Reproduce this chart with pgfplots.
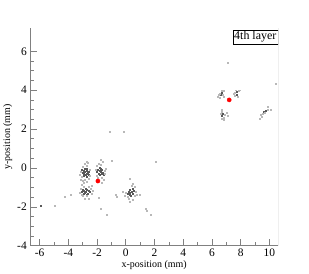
\documentclass[border=0pt]{standalone}
\usepackage{fontspec}
\setmainfont{Liberation Serif}
\usepackage{pgfplots}
\pgfplotsset{compat=1.18}
\definecolor{axgray}{gray}{0.5}
\definecolor{bindark}{gray}{0.35}
\definecolor{binlight}{gray}{0.72}
\begin{document}
\begin{tikzpicture}
\begin{axis}[
  width=248bp, height=218bp, scale only axis,
  xmin=-6.65, xmax=10.6, ymin=-4, ymax=7.2,
  xtick={-6,-4,...,10}, minor x tick num=1,
  ytick={-4,-2,...,6}, minor y tick num=3,
  axis x line*=bottom, axis y line*=left,
  axis line style={axgray, line width=0.7bp},
  every tick/.style={axgray, line width=0.7bp},
  tick align=inside,
  major tick length=7bp, minor tick length=4bp,
  /pgf/number format/assume math mode=true,
  ticklabel style={font=\fontsize{11.5}{12}\selectfont},
  label style={font=\fontsize{10}{12}\selectfont},
  xlabel={x-position (mm)}, ylabel={y-position (mm)},
  xlabel style={yshift=3bp}, ylabel style={yshift=-2bp},
]
% dark bins
\addplot[only marks, color=bindark, mark=square*, mark size=0.5bp, mark options={draw=none, fill=bindark}] coordinates {
(-2.95,-0.15) (-2.85,-0.2) (-2.75,-0.15) (-2.65,-0.25) (-2.9,-0.3) (-2.8,-0.35) (-2.7,-0.3) (-2.6,-0.35) (-3.0,-0.25) (-2.85,-0.05) (-2.7,-0.05) (-2.95,-0.4) (-2.75,-0.45) (-2.55,-0.2) (-3.05,-0.1)
(-1.95,-0.1) (-1.85,-0.15) (-1.75,-0.2) (-1.65,-0.1) (-1.9,-0.3) (-1.8,-0.35) (-1.7,-0.3) (-1.6,-0.25) (-2.0,-0.2) (-1.85,0.0) (-1.75,-0.05) (-1.55,-0.35)
(-3.0,-1.1) (-2.9,-1.15) (-2.8,-1.2) (-2.7,-1.1) (-2.6,-1.15) (-2.95,-1.3) (-2.85,-1.25) (-2.75,-1.35) (-2.65,-1.3) (-3.05,-1.2) (-2.5,-1.2) (-2.8,-1.05)
(0.2,-1.2) (0.3,-1.25) (0.4,-1.2) (0.5,-1.3) (0.25,-1.35) (0.35,-1.4) (0.45,-1.05) (0.15,-1.3) (0.55,-1.15) (0.3,-1.1)
(-5.95,-1.95) (6.6,3.75) (6.7,3.85) (7.7,3.9) (7.75,3.75) (6.75,2.8) (6.7,2.7) (9.75,2.95) (9.6,2.9)
};
% light bins
\addplot[only marks, color=binlight, mark=square*, mark size=0.5bp, mark options={draw=none, fill=binlight}] coordinates {
(-3.15,-0.2) (-3.1,-0.45) (-3.15,-0.6) (-3.0,-0.65) (-2.85,-0.6) (-2.6,-0.55) (-2.5,-0.4) (-2.5,-0.1) (-2.7,0.1) (-2.85,0.2) (-3.0,0.05) (-2.65,0.25) (-3.2,-0.35) (-2.9,-0.75) (-3.05,-0.85) (-2.75,-0.7)
(-2.1,-0.1) (-2.05,-0.4) (-1.95,-0.5) (-1.5,-0.15) (-1.45,-0.3) (-1.65,-0.5) (-1.75,0.15) (-1.9,0.2) (-1.6,0.3) (-2.0,0.1) (-1.4,-0.05) (-1.55,-0.6) (-1.7,-0.75) (-2.05,-0.65)
(-3.15,-1.05) (-3.1,-1.35) (-3.0,-1.45) (-2.7,-1.45) (-2.45,-1.05) (-2.4,-1.3) (-2.3,-1.15) (-2.55,-0.95) (-2.9,-0.95) (-3.2,-1.25) (-2.85,-1.6) (-2.6,-1.6) (-2.35,-0.9)
(0.0,-1.25) (-0.1,-1.4) (0.1,-1.5) (0.6,-1.45) (0.7,-1.2) (0.65,-0.95) (0.4,-0.9) (0.2,-1.6) (0.45,-1.65) (-0.2,-1.2) (0.75,-1.35) (0.5,-0.8) (0.25,-0.55) (0.3,-1.75)
(-4.96,-1.95) (-3.8,-1.38) (-1.78,-2.09) (-1.31,-2.39) (1.4,-2.09) (1.45,-2.2) (1.75,-2.41) (-0.96,0.35) (2.05,0.33) (-0.73,-1.38) (-0.6,-1.5) (1.0,-1.38) (-1.9,-1.54) (-1.78,0.45) (-2.75,0.31) (-1.15,1.85) (-0.17,1.85) (-4.25,-1.5)
(6.45,3.75) (6.55,3.8) (6.65,3.95) (6.75,3.75) (6.4,3.65) (6.8,3.65) (6.85,3.95) (6.55,3.6)
(7.6,3.85) (7.65,4.0) (7.85,3.95) (7.55,3.7) (7.95,4.0) (7.8,3.65) (7.5,3.8)
(6.65,3.0) (6.7,2.9) (6.8,2.6) (6.9,2.75) (7.0,2.85) (6.65,2.55) (6.85,2.5) (7.1,2.7) (6.6,2.8)
(9.4,2.75) (9.5,2.8) (9.9,3.15) (9.85,3.0) (9.45,2.65) (9.35,2.55) (10.1,3.0) (9.7,2.85)
(7.13,5.4) (10.42,4.34)
};
% red points
\addplot[only marks, color=red, mark=*, mark size=2.1bp, mark options={draw=red, fill=red}] coordinates {(-1.94,-0.67) (7.2,3.5)};
\draw[axgray, line width=0.7bp] (rel axis cs:1,0) -- (rel axis cs:1,1);
\node[draw=black, fill=white, anchor=north east, inner sep=1.5bp, font=\fontsize{12}{12}\selectfont] at ([yshift=-2bp]rel axis cs:1,1) {4th layer};
\coordinate (bl) at (rel axis cs:0,0);
\coordinate (tr) at (rel axis cs:1,1);
\end{axis}
\path ([shift={(-30bp,-28bp)}]bl) rectangle ([shift={(31bp,28bp)}]tr);
\end{tikzpicture}
\end{document}
